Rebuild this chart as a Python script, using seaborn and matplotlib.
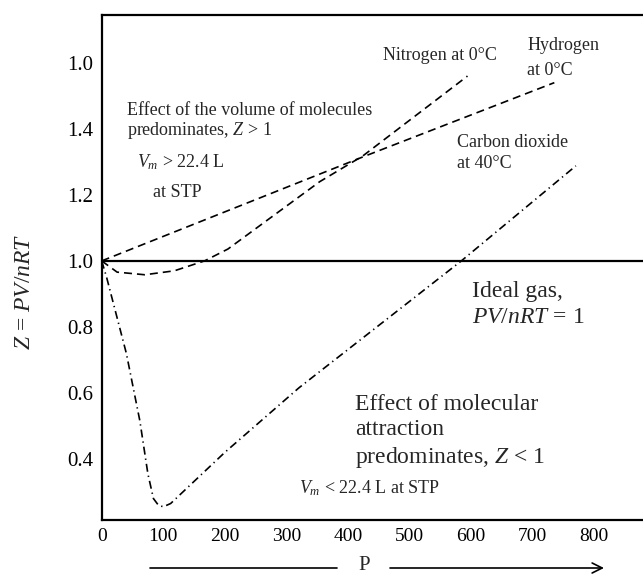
import matplotlib
matplotlib.use("Agg")
import matplotlib.pyplot as plt
import seaborn as sns
from matplotlib.lines import Line2D

sns.set_theme(style="white")
plt.rcParams["font.family"] = ["Liberation Serif", "DejaVu Serif"]
plt.rcParams["mathtext.fontset"] = "custom"
plt.rcParams["mathtext.rm"] = "Liberation Serif"
plt.rcParams["mathtext.it"] = "Liberation Serif:italic"

# Compressibility factor Z = PV/nRT versus pressure P
h2_p = [0, 424, 735]
h2_z = [1.0, 1.315, 1.54]

n2_p = [0, 25, 70, 118, 167, 205, 354, 424, 594]
n2_z = [1.0, 0.966, 0.958, 0.970, 1.0, 1.036, 1.24, 1.318, 1.56]

co2_p = [0, 8, 40, 62, 75, 84, 92, 100, 112, 200, 320, 584, 770]
co2_z = [1.0, 0.95, 0.72, 0.515, 0.355, 0.28, 0.26, 0.255, 0.265, 0.42, 0.615, 1.0, 1.288]

ideal_p = [0, 880]
ideal_z = [1.0, 1.0]

x_ticks = [0, 100, 200, 300, 400, 500, 600, 700, 800]
y_ticks = [0.4, 0.6, 0.8, 1.0, 1.2, 1.4, 1.6]
y_tick_labels = ["0.4", "0.6", "0.8", "1.0", "1.2", "1.4", "1.0"]

fig = plt.figure(figsize=(6.43, 5.78), dpi=100)
ax = fig.add_axes([101.7 / 643, 58 / 578, 1 - 101.7 / 643, (520 - 15) / 578])

lw = 1.2
sns.lineplot(x=ideal_p, y=ideal_z, ax=ax, color="black", lw=1.6, estimator=None, sort=False)
sns.lineplot(x=h2_p, y=h2_z, ax=ax, color="black", lw=lw, estimator=None, sort=False,
             linestyle=(0, (4.8, 3.0)))
sns.lineplot(x=n2_p, y=n2_z, ax=ax, color="black", lw=lw, estimator=None, sort=False,
             linestyle=(0, (4.8, 3.0)))
sns.lineplot(x=co2_p, y=co2_z, ax=ax, color="black", lw=lw, estimator=None, sort=False,
             linestyle=(0, (4.8, 2.4, 0.8, 2.4)))

ax.set_xlim(0, 879)
ax.set_ylim(0.215, 1.745)
ax.set_xticks(x_ticks)
ax.set_xticklabels([str(t) for t in x_ticks])
ax.set_yticks(y_ticks)
ax.set_yticklabels(y_tick_labels)
ax.tick_params(axis="both", direction="in", length=7, width=1.3, colors="black", pad=6)
ax.tick_params(axis="x", labelsize=14)
ax.tick_params(axis="y", labelsize=15)
ax.set_xlabel("")
ax.set_ylabel("")
for side in ["left", "bottom", "top"]:
    ax.spines[side].set_color("black")
    ax.spines[side].set_linewidth(1.6)
ax.spines["right"].set_visible(False)

small = 13
big = 17
ax.text(457, 1.609, "Nitrogen at 0°C", fontsize=small, ha="left", va="baseline")
ax.text(691, 1.639, "Hydrogen", fontsize=small, ha="left", va="baseline")
ax.text(691, 1.564, "at 0°C", fontsize=small, ha="left", va="baseline")
ax.text(41, 1.442, "Effect of the volume of molecules", fontsize=small, ha="left", va="baseline")
ax.text(41, 1.382, "predominates, $Z$ > 1", fontsize=small, ha="left", va="baseline")
ax.text(57, 1.285, "$V_m$ > 22.4 L", fontsize=small, ha="left", va="baseline")
ax.text(83, 1.194, "at STP", fontsize=small, ha="left", va="baseline")
ax.text(577, 1.345, "Carbon dioxide", fontsize=small, ha="left", va="baseline")
ax.text(577, 1.282, "at 40°C", fontsize=small, ha="left", va="baseline")
ax.text(601, 0.891, "Ideal gas,", fontsize=big, ha="left", va="baseline")
ax.text(601, 0.812, "$PV/nRT$ = 1", fontsize=big, ha="left", va="baseline")
ax.text(411, 0.548, "Effect of molecular", fontsize=big, ha="left", va="baseline")
ax.text(411, 0.473, "attraction", fontsize=big, ha="left", va="baseline")
ax.text(411, 0.388, "predominates, $Z$ < 1", fontsize=big, ha="left", va="baseline")
ax.text(549, 0.297, "$V_m$ < 22.4 L at STP", fontsize=small, ha="right", va="baseline")

fig.text(24 / 643, 1 - 292 / 578, "$Z$ = $PV/nRT$", fontsize=17, rotation=90,
         ha="center", va="center")

# pressure axis caption with arrow
fig.text(364 / 643, 1 - 566 / 578, "P", fontsize=15, ha="center", va="center")
fig.add_artist(Line2D([150 / 643, 337 / 643], [1 - 568 / 578, 1 - 568 / 578],
                      color="black", lw=1.2, transform=fig.transFigure))
ax.annotate("", xy=(604 / 643, 1 - 568 / 578), xytext=(390 / 643, 1 - 568 / 578),
            xycoords="figure fraction", textcoords="figure fraction",
            arrowprops=dict(arrowstyle="->", color="black", lw=1.2,
                            mutation_scale=18, shrinkA=0, shrinkB=0),
            annotation_clip=False)

fig.savefig("out.png", dpi=100)
